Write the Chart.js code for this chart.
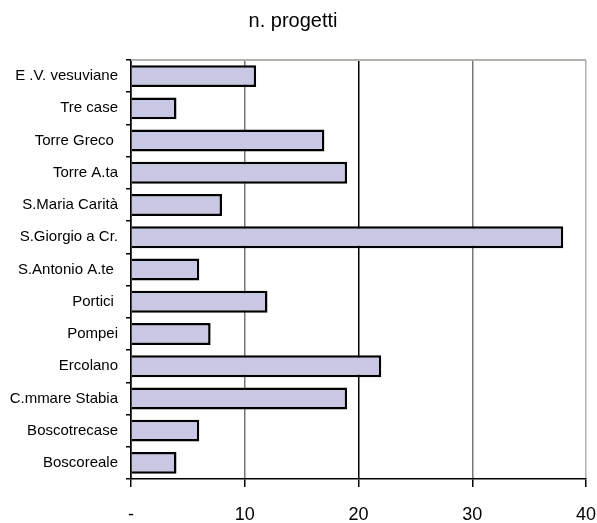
<!DOCTYPE html>
<html>
<head>
<meta charset="utf-8">
<script src="https://cdn.jsdelivr.net/npm/chart.js@4"></script>
<style>
  body { margin: 0; background: #fff; }
  #wrap { width: 597px; height: 523px; }
</style>
</head>
<body>
<div id="wrap"><canvas id="chart" width="597" height="523"></canvas></div>
<script>
const comuni = ["E .V. vesuviane", "Tre case", "Torre Greco ", "Torre A.ta", "S.Maria Carità", "S.Giorgio a Cr.", "S.Antonio A.te ", "Portici ", "Pompei", "Ercolano", "C.mmare Stabia", "Boscotrecase", "Boscoreale"];
const progetti = [11, 4, 17, 19, 8, 38, 6, 12, 7, 22, 19, 6, 4];
const xTicks = ["-", "10", "20", "30", "40"];

// grid line colours as in the original (10/30 grey, 20 black, 40 light)
function gridColor(ctx) {
  const v = ctx.tick ? ctx.tick.value : 0;
  if (v === 20 || v === 0) return "#000";
  if (v === 40) return "#b4b0ac";
  return "#777";
}

const topFrame = {
  id: "topFrame",
  afterDraw(chart) {
    const a = chart.chartArea;
    const c = chart.ctx;
    c.save();
    c.strokeStyle = "#b4b0ac";
    c.lineWidth = 2;
    c.beginPath();
    c.moveTo(a.left, a.top);
    c.lineTo(a.right, a.top);
    c.stroke();
    c.restore();
  }
};

new Chart(document.getElementById("chart").getContext("2d"), {
  type: "bar",
  data: {
    labels: comuni,
    datasets: [{
      data: progetti,
      backgroundColor: "#c8c8e4",
      borderColor: "#000",
      borderWidth: 2.5,
      barPercentage: 0.68,
      categoryPercentage: 1
    }]
  },
  options: {
    indexAxis: "y",
    responsive: false,
    animation: false,
    layout: { padding: { left: 0, right: 11, top: 0, bottom: 0 } },
    plugins: {
      legend: { display: false },
      tooltip: { enabled: false },
      title: {
        display: true,
        text: "n. progetti",
        color: "#000",
        font: { family: "Liberation Sans", size: 20, weight: "normal" },
        padding: { top: 9, bottom: 27 }
      }
    },
    scales: {
      x: {
        min: 0,
        max: 40,
        afterFit(scale) {
          scale.height = 44;
          scale.paddingLeft = 0;
          scale.paddingRight = 0;
        },
        ticks: {
          stepSize: 10,
          color: "#000",
          padding: 17,
          maxRotation: 0,
          font: { family: "Liberation Sans", size: 18 },
          callback: (v, i) => xTicks[i]
        },
        grid: { color: gridColor, lineWidth: 1.5, tickLength: 8, tickColor: "#000" },
        border: { color: "#000", width: 1.5 }
      },
      y: {
        afterFit(scale) { scale.width = 131; },
        ticks: {
          color: "#000",
          padding: 8,
          font: { family: "Liberation Sans", size: 15 }
        },
        grid: { offset: true, drawOnChartArea: false, tickLength: 5, tickColor: "#000", lineWidth: 1.5 },
        border: { color: "#000", width: 1.5 }
      }
    }
  },
  plugins: [topFrame]
});
</script>
</body>
</html>
